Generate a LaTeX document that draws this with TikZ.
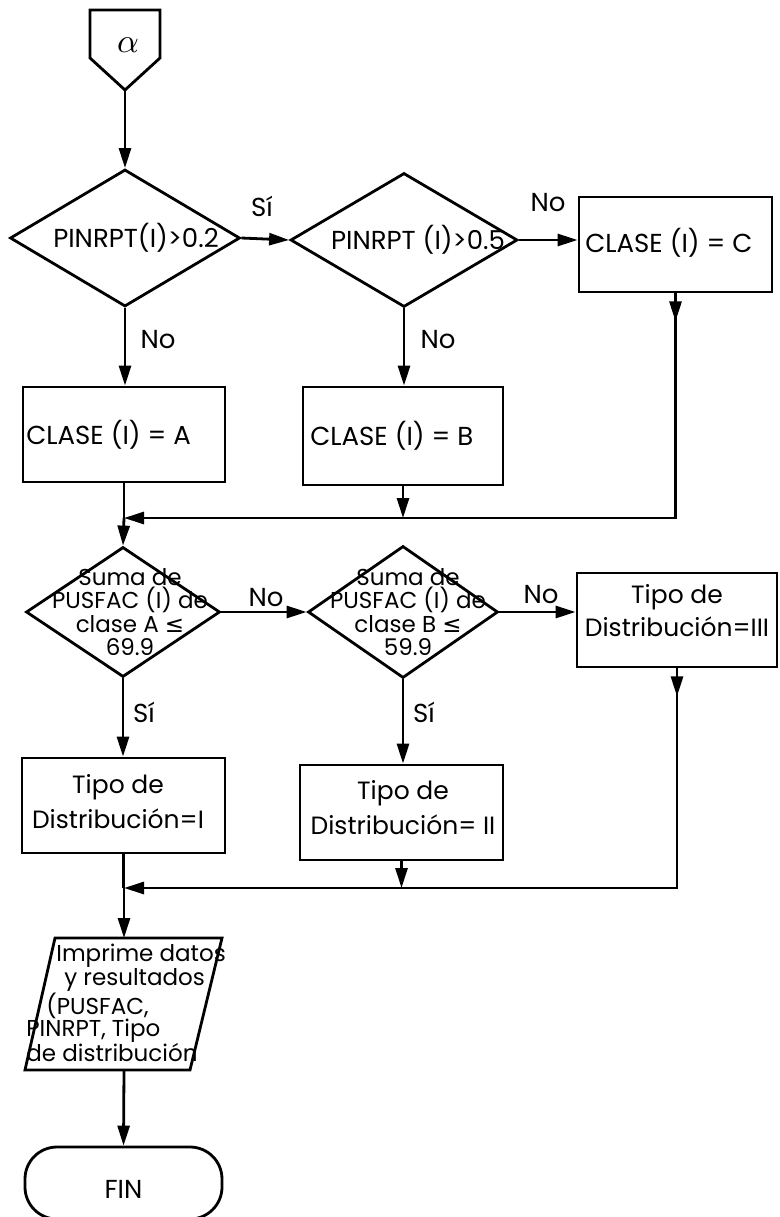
\documentclass[tikz,border=0pt]{standalone}
\usepackage{fontspec}
\setmainfont{Poppins}
\newfontfamily\symf{DejaVu Sans}
\usetikzlibrary{shapes.geometric,arrows.meta,decorations.markings}
\begin{document}
\begin{tikzpicture}[x=1pt,y=-1pt,line width=2.8pt,
  proc/.style={draw,rectangle,inner sep=0pt},
  dec/.style={draw,diamond,inner sep=0pt},
  txt/.style={inner sep=0pt,font=\fontsize{23}{23.5}\selectfont,align=center},
  lbl/.style={inner sep=0pt,font=\fontsize{26}{26}\selectfont},
  tip/.style={-{Triangle[length=20pt,width=12pt]}},
  downtip/.style={tip,postaction=decorate,decoration={markings,mark=at position 28pt with {\arrow{Triangle[length=20pt,width=12pt]}}}}]
\useasboundingbox (0,0) rectangle (779,1217);
% off-page connector
\draw (90,10) -- (160,10) -- (160,58) -- (125,90) -- (90,58) -- cycle;
\coordinate (ptip) at (125,90);
\node[inner sep=0pt,scale=3.4] (alpha) at (128,45) {$\alpha$};
% first row
\node[dec,minimum width=230,minimum height=137] (d1) at (125,238) {};
\node[dec,minimum width=227,minimum height=134] (d2) at (404,240) {};
\node[proc,minimum width=193,minimum height=95] (bc) at (675.5,244.5) {};
\node[txt,font=\fontsize{26}{26}\selectfont] (t1) at (136,238) {PINRPT(I)>0.2};
\node[txt,font=\fontsize{26}{26}\selectfont] (t2) at (418,240) {PINRPT (I)>0.5};
\node[lbl,anchor=west] (tc) at (584,243) {CLASE (I) = C};
% boxes A, B
\node[proc,minimum width=202,minimum height=95] (ba) at (124,434.5) {};
\node[proc,minimum width=200,minimum height=98] (bb) at (403,436) {};
\node[lbl,anchor=west] (ta) at (25,435) {CLASE (I) = A};
\node[lbl,anchor=west] (tb) at (309,436) {CLASE (I) = B};
\coordinate (m1) at (124,518);
% second row
\node[dec,minimum width=194,minimum height=130] (d3) at (123,612) {};
\node[dec,minimum width=190,minimum height=132] (d4) at (403,612) {};
\node[proc,minimum width=200,minimum height=94] (b3) at (677,620) {};
\node[txt] (t3) at (130,612) {Suma de\\PUSFAC (I) de\\clase A {\symf ≤}\\69.9};
\node[txt] (t4) at (408,612) {Suma de\\PUSFAC (I) de\\clase B {\symf ≤}\\59.9};
\node[txt,font=\fontsize{25}{33}\selectfont] (t5) at (677,611) {Tipo de\\Distribución=III};
% boxes I, II
\node[proc,minimum width=203,minimum height=95] (b1) at (123.5,805.5) {};
\node[proc,minimum width=203,minimum height=95] (b2) at (401.5,812.5) {};
\node[txt,font=\fontsize{25}{35}\selectfont] (t6) at (118,802) {Tipo de\\Distribución=I};
\node[txt,font=\fontsize{25}{35}\selectfont] (t7) at (403,808) {Tipo de\\Distribución= II};
\coordinate (m2) at (124,888);
% output parallelogram
\draw (55,938) -- (222,938) -- (190,1070) -- (25,1070) -- cycle;
\coordinate (iotop) at (124,938);
\coordinate (iobot) at (124,1070);
\node[inner sep=0pt,font=\fontsize{23}{22.5}\selectfont,align=left,anchor=north west] (t8) at (25,943) {\hspace*{30pt}Imprime datos\\\hspace*{38pt}y resultados\\\hspace*{20pt}(PUSFAC,\\PINRPT, Tipo\\de distribución};
% terminal
\node[draw,rectangle,rounded corners=32pt,minimum width=197,minimum height=72,inner sep=0pt] (fin) at (123.5,1183) {};
\node[lbl] (tf) at (123.5,1189) {FIN};
% connectors
\draw[tip] (ptip) -- (d1.north);
\draw[tip] (d1.east) -- (d2.west);
\node[lbl] (ls1) at (262,206) {Sí};
\draw[tip] (d2.east) -- (d2.east -| bc.west);
\node[lbl] (ln1) at (548,203) {No};
\draw[tip] (d1.south) -- (d1.south |- ba.north);
\node[lbl] (ln2) at (158,340) {No};
\draw[tip] (d2.south) -- (d2.south |- bb.north);
\node[lbl] (ln3) at (438,340) {No};
\draw (ba.south) -- (m1);
\draw[tip] (m1) -- (d3.north);
\draw[downtip] (bc.south) |- (m1);
\draw[tip] (bb.south) -- (bb.south |- m1);
\draw[tip] (d3.east) -- (d4.west);
\node[lbl] (ln4) at (266,598) {No};
\draw[tip] (d4.east) -- (d4.east -| b3.west);
\node[lbl] (ln5) at (541,595) {No};
\draw[tip] (d3.south) -- (d3.south |- b1.north);
\node[lbl] (ls2) at (144,712) {Sí};
\draw[tip] (d4.south) -- (d4.south |- b2.north);
\node[lbl] (ls3) at (424,712) {Sí};
\draw (b1.south) -- (b1.south |- m2);
\draw (b1.south |- m2) -- (m2);
\draw[downtip] (b3.south) |- (m2);
\draw[tip] (b2.south) -- (b2.south |- m2);
\draw[tip] (m2) -- (iotop);
\draw[tip] (iobot) -- (fin.north);
\end{tikzpicture}
\end{document}
